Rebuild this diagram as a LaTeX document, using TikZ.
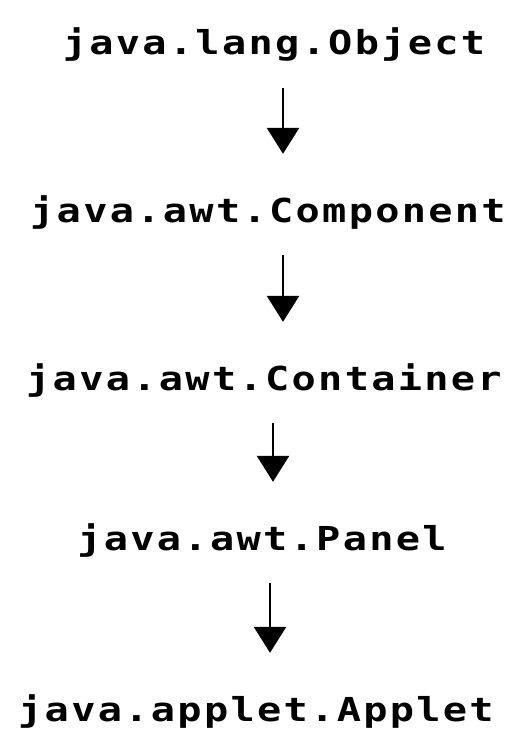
\documentclass[tikz,border=0pt]{standalone}
\usepackage{fontspec}
\newfontfamily\classfont[FakeStretch=1.22,LetterSpace=7]{DejaVu Sans Mono}
\usetikzlibrary{arrows.meta}

\begin{document}
\begin{tikzpicture}[
  x=1pt, y=-1pt,
  classnode/.style={inner sep=0pt, anchor=base, text height=24pt, text depth=8pt,
    font=\classfont\bfseries\fontsize{33}{33}\selectfont},
  inherits/.style={-{Triangle[width=32pt,length=26pt]}, line width=2.8pt,
    shorten <=25pt, shorten >=44pt}
]
\useasboundingbox (0,0) rectangle (518,730);

% Class nodes
\node[classnode] (object) at (274, 55) {java.lang.Object};
\node[classnode] (component) at (268, 222) {java.awt.Component};
\node[classnode] (container) at (264, 390) {java.awt.Container};
\node[classnode] (panel) at (262, 550) {java.awt.Panel};
\node[classnode] (applet) at (256, 721) {java.applet.Applet};

% Arrows
\draw[inherits] ([xshift=9pt]object.south) -- ([xshift=9pt]object.south |- component.north);
\draw[inherits] ([xshift=15pt]component.south) -- ([xshift=15pt]component.south |- container.north);
\draw[inherits] ([xshift=9pt]container.south) -- ([xshift=9pt]container.south |- panel.north);
\draw[inherits] ([xshift=8pt]panel.south) -- ([xshift=8pt]panel.south |- applet.north);

\end{tikzpicture}
\end{document}
